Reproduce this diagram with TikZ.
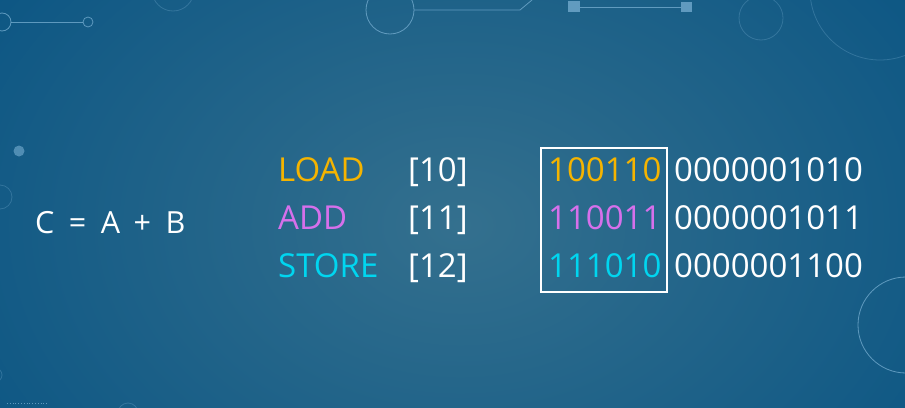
\documentclass[tikz,border=0pt]{standalone}
\usepackage{fontspec}
\setmainfont{Open Sans}

\definecolor{bgouter}{RGB}{6,82,130}
\definecolor{bginner}{RGB}{52,112,142}
\definecolor{decoline}{RGB}{120,175,210}
\definecolor{loadcol}{RGB}{245,180,0}
\definecolor{addcol}{RGB}{214,112,235}
\definecolor{storecol}{RGB}{0,214,240}

\tikzset{
  word/.style={anchor=base west, inner sep=0pt, text=white, font=\fontsize{33}{40}\selectfont},
  deco/.style={draw=decoline, line width=0.8pt, opacity=0.75},
  faint/.style={draw=decoline, line width=0.8pt, opacity=0.3},
}

\begin{document}
\begin{tikzpicture}[x=1pt, y=-1pt]
  % Background
  \fill[bgouter] (0,0) rectangle (905,407);
  \begin{scope}
    \clip (0,0) rectangle (905,407);
    \shade[inner color=bginner, outer color=bgouter] (460,225) ellipse (660 and 480);

    % Circuit decorations
    \draw[deco] (2,22) circle (9);
    \draw[deco] (11,22) -- (83,22);
    \draw[deco] (88,22) circle (5);
    \draw[faint] (173,-10) circle (21);
    \draw[deco] (390,10) circle (24);
    \draw[deco] (414,10) -- (520,10) -- (532,0);
    \fill[decoline, opacity=0.75] (568,1) rectangle (580,12);
    \draw[deco] (580,7) -- (681,7);
    \fill[decoline, opacity=0.75] (681,2) rectangle (692,12);
    \draw[faint] (761,18) circle (22);
    \draw[faint] (880,-10) circle (70);
    \fill[decoline, opacity=0.6] (19,151) circle (5.5);
    \draw[faint] (0,197) circle (12);
    \draw[faint] (-5,375) circle (7);
    \draw[deco, dotted] (7,403) -- (47,403);
    \draw[faint] (128,413) circle (10);
    \draw[deco] (906,325) circle (48);
  \end{scope}
  \useasboundingbox (0,0) rectangle (905,407);

  % Statement
  \node[word, font=\fontsize{30.5}{36}\selectfont] (expr) at (35,233)
    {C\hspace{14.5pt}=\hspace{14.5pt}A\hspace{13.5pt}+\hspace{14.5pt}B};

  % Mnemonics
  \node[word, text=loadcol] (load) at (278,181) {LOAD};
  \node[word, text=addcol] (add) at (278,229) {ADD};
  \node[word, text=storecol] (store) at (278,277) {STORE};

  % Addresses
  \node[word] (adr10) at (408,181) {[10]};
  \node[word] (adr11) at (408,229) {[11]};
  \node[word] (adr12) at (408,277) {[12]};

  % Opcodes
  \node[word, text=loadcol] (opload) at (548,181) {100110};
  \node[word, text=addcol] (opadd) at (548,229) {110011};
  \node[word, text=storecol] (opstore) at (548,277) {111010};
  \draw[white, line width=1.6pt] (541,148) rectangle (667,292);

  % Operands
  \node[word] (bin10) at (674,181) {0000001010};
  \node[word] (bin11) at (674,229) {0000001011};
  \node[word] (bin12) at (674,277) {0000001100};
\end{tikzpicture}
\end{document}
